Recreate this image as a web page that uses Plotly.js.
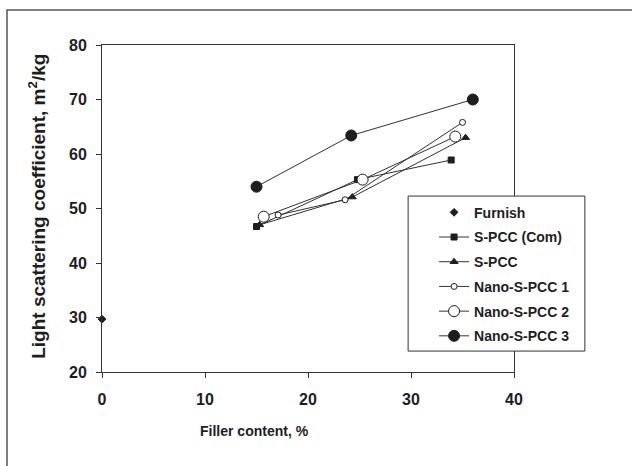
<!DOCTYPE html>
<html>
<head>
<meta charset="utf-8">
<script src="https://cdn.plot.ly/plotly-3.0.1.min.js"></script>
<style>
  html, body { margin: 0; padding: 0; background: #fff; }
  #chart { width: 632px; height: 466px; }
</style>
</head>
<body>
<div id="chart"></div>
<script>
// Light scattering coefficient vs filler content for each filler type
const furnishX = [0];
const furnishY = [29.7];

const spccComX = [15.0, 24.8, 33.9];
const spccComY = [46.7, 55.3, 58.9];

const spccX = [15.3, 24.3, 35.3];
const spccY = [47.0, 52.1, 63.0];

const nano1X = [17.1, 23.6, 35.0];
const nano1Y = [48.8, 51.6, 65.8];

const nano2X = [15.7, 25.3, 34.3];
const nano2Y = [48.5, 55.3, 63.2];

const nano3X = [15.0, 24.2, 36.0];
const nano3Y = [54.0, 63.4, 70.0];

const seriesNames = ['Furnish', 'S-PCC (Com)', 'S-PCC', 'Nano-S-PCC 1', 'Nano-S-PCC 2', 'Nano-S-PCC 3'];

const ink = '#1e1e1e';
const lineInk = '#333333';
const font = 'Liberation Sans, Arial, Helvetica, sans-serif';

function series(name, x, y, symbol, size, fill, mode) {
  return {
    type: 'scatter',
    mode: mode || 'lines+markers',
    name: name,
    legendgroup: name,
    x: x,
    y: y,
    cliponaxis: false,
    line: { color: lineInk, width: 1 },
    marker: { symbol: symbol, size: size, color: fill, line: { color: ink, width: 1 } }
  };
}

const traces = [
  series(seriesNames[0], furnishX, furnishY, 'diamond', 6, ink, 'markers'),
  series(seriesNames[1], spccComX, spccComY, 'square', 6, ink),
  series(seriesNames[2], spccX, spccY, 'triangle-up', 7, ink),
  series(seriesNames[3], nano1X, nano1Y, 'circle', 6, '#ffffff'),
  series(seriesNames[4], nano2X, nano2Y, 'circle', 11, '#ffffff'),
  series(seriesNames[5], nano3X, nano3Y, 'circle', 11, ink)
];

const axisCommon = {
  showgrid: false,
  zeroline: false,
  showline: true,
  mirror: true,
  linecolor: lineInk,
  linewidth: 1,
  ticks: 'outside',
  ticklen: 5,
  tickcolor: lineInk,
  dtick: 10,
  tickfont: { family: font, size: 16, weight: 'bold', color: ink },
  fixedrange: true
};

const layout = {
  width: 632,
  height: 466,
  margin: { l: 102, r: 118, t: 45, b: 94 },
  paper_bgcolor: '#ffffff',
  plot_bgcolor: '#ffffff',
  showlegend: true,
  xaxis: Object.assign({}, axisCommon, { range: [0, 40], tick0: 0, ticklabelstandoff: 8 }),
  yaxis: Object.assign({}, axisCommon, { range: [20, 80], tick0: 20, ticklabelstandoff: 6 }),
  legend: {
    x: 0.806,
    xanchor: 'left',
    y: 0.536,
    yanchor: 'top',
    bgcolor: 'rgba(0,0,0,0)',
    borderwidth: 0,
    tracegroupgap: 3.5,
    traceorder: 'grouped',
    font: { family: font, size: 14, weight: 'bold', color: ink }
  },
  shapes: [
    // frame around the whole figure (left and top edges visible)
    {
      type: 'path', xref: 'paper', yref: 'paper',
      path: 'M -0.2306,-1 L -0.2306,1.107 L 2,1.107',
      line: { color: '#555555', width: 1.5 }
    },
    // legend box
    {
      type: 'rect', xref: 'paper', yref: 'paper', layer: 'above',
      x0: 0.743, x1: 1.172, y0: 0.064, y1: 0.538,
      fillcolor: '#ffffff',
      line: { color: lineInk, width: 1 }
    }
  ],
  annotations: [
    {
      text: 'Filler content, %',
      xref: 'paper', yref: 'paper', x: 0.371, y: -0.18,
      xanchor: 'center', yanchor: 'middle', showarrow: false,
      font: { family: font, size: 14, weight: 'bold', color: ink }
    },
    {
      text: 'Light scattering coefficient, m<sup>2</sup>/kg',
      xref: 'paper', yref: 'paper', x: -0.158, y: 0.508,
      xanchor: 'center', yanchor: 'middle', showarrow: false, textangle: -90,
      font: { family: font, size: 19, weight: 'bold', color: ink }
    }
  ]
};

Plotly.newPlot('chart', traces, layout, { displayModeBar: false, staticPlot: true });
</script>
</body>
</html>
